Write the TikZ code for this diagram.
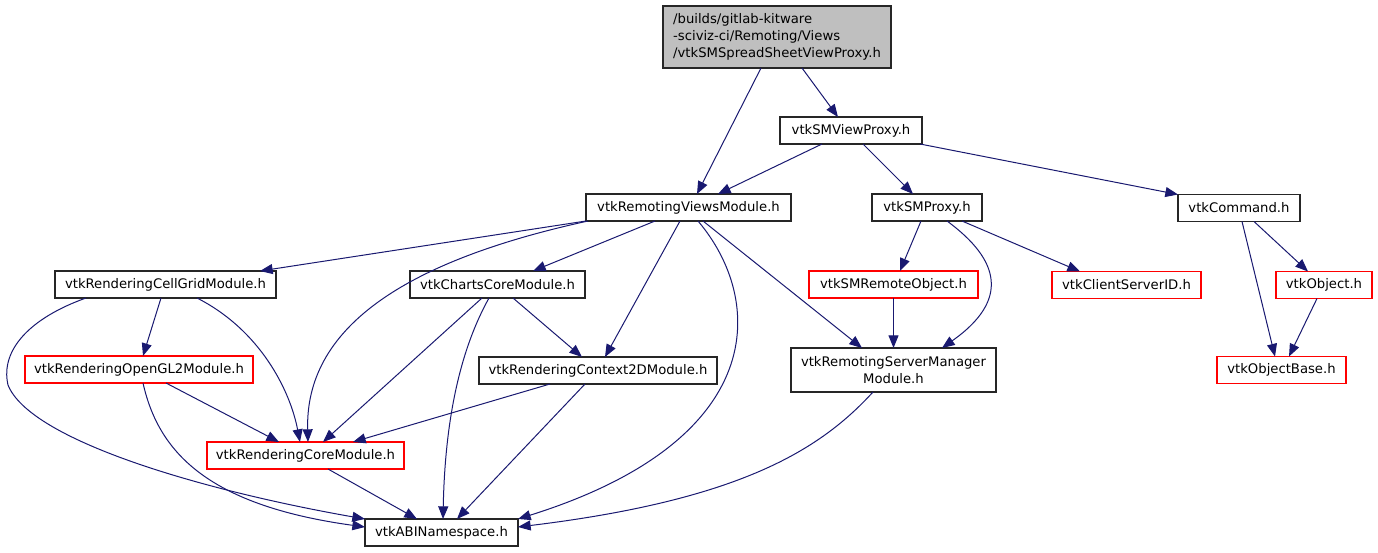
\documentclass[tikz,border=0pt]{standalone}
\usepackage{fontspec}
\setmainfont{DejaVu Sans}
\usetikzlibrary{arrows.meta,calc}
\definecolor{edgeblue}{HTML}{191970}
\definecolor{rootgray}{HTML}{BFBFBF}
\definecolor{boxred}{HTML}{FF0000}
\begin{document}
\begin{tikzpicture}[x=0.75pt,y=-0.75pt,
  box/.style={draw=black!85, line width=0.8pt, fill=white, inner sep=0pt, outer sep=0pt,
    minimum height=20.25pt, font=\fontsize{9.9}{12.5}\selectfont},
  redbox/.style={box, draw=boxred},
  dep/.style={draw=edgeblue, line width=0.75pt, -{Triangle[length=9.5pt,width=7.5pt]}, edgeblue}
]
\useasboundingbox (0,0) rectangle (1378,553);

\node[box, fill=rootgray, minimum width=171pt, minimum height=46.5pt, align=left] (root) at (777,37)
  {/builds/gitlab-kitware\\-sciviz-ci/Remoting/Views\\/vtkSMSpreadSheetViewProxy.h};
\node[box, minimum width=106.5pt] (smview) at (851,130.5) {vtkSMViewProxy.h};
\node[box, minimum width=153.75pt] (rvm) at (688.5,207.5) {vtkRemotingViewsModule.h};
\node[box, minimum width=82.5pt] (smproxy) at (927,207.5) {vtkSMProxy.h};
\node[box, minimum width=91.5pt] (command) at (1239,208) {vtkCommand.h};
\node[box, minimum width=165.75pt] (cellgrid) at (165.5,284.5) {vtkRenderingCellGridModule.h};
\node[box, minimum width=131.25pt] (charts) at (497.5,284.5) {vtkChartsCoreModule.h};
\node[redbox, minimum width=126.75pt] (remote) at (893.5,284.5) {vtkSMRemoteObject.h};
\node[redbox, minimum width=111.75pt] (csid) at (1126.5,285) {vtkClientServerID.h};
\node[redbox, minimum width=72pt] (object) at (1324,285) {vtkObject.h};
\node[redbox, minimum width=171pt] (opengl2) at (139,369.5) {vtkRenderingOpenGL2Module.h};
\node[box, minimum width=178.5pt] (context2d) at (598,370.5) {vtkRenderingContext2DModule.h};
\node[box, minimum width=153.75pt, minimum height=33pt, align=center] (rsm) at (893.5,370)
  {vtkRemotingServerManager\\Module.h};
\node[redbox, minimum width=96.75pt] (objbase) at (1281.5,370) {vtkObjectBase.h};
\node[redbox, minimum width=147.75pt] (core) at (305.5,455.5) {vtkRenderingCoreModule.h};
\node[box, minimum width=114.75pt] (abi) at (441.5,532.5) {vtkABINamespace.h};

% root
\draw[dep] ($(root.south)+(-16,0)$) -- ($(rvm.north)+(8.5,0)$);
\draw[dep] ($(root.south)+(25,0)$) -- ($(smview.north)+(-13,0)$);
% smview
\draw[dep] ($(smview.south)+(-29,0)$) -- ($(rvm.north)+(29.5,0)$);
\draw[dep] ($(smview.south)+(12,0)$) -- ($(smproxy.north)+(-14,0)$);
\draw[dep] ($(smview.south east)+(-2,0)$) -- (command.north west);
% rvm
\draw[dep] (rvm.south west) -- ($(cellgrid.north)+(94.5,0)$);
\draw[dep] ($(rvm.south west)+(2,0)$) .. controls (400,262) and (305,330) .. ($(core.north)+(2.5,0)$);
\draw[dep] ($(rvm.south)+(-33.5,0)$) -- ($(charts.north)+(35.5,0)$);
\draw[dep] ($(rvm.south)+(-8.5,0)$) -- ($(context2d.north)+(7,0)$);
\draw[dep] ($(rvm.south)+(9.5,0)$) .. controls (765,300) and (770,440) .. (abi.north east);
\draw[dep] ($(rvm.south)+(14.5,0)$) -- ($(rsm.north)+(-31.5,0)$);
% smproxy
\draw[dep] ($(smproxy.south)+(-6,0)$) -- ($(remote.north)+(6.5,0)$);
\draw[dep] ($(smproxy.south)+(20,0)$) .. controls (1000,260) and (1010,300) .. ($(rsm.north)+(48.5,0)$);
\draw[dep] ($(smproxy.south)+(35,0)$) -- ($(csid.north)+(-46.5,0)$);
% command
\draw[dep] ($(command.south)+(3,0)$) -- ($(objbase.north)+(-6.5,0)$);
\draw[dep] ($(command.south)+(15,0)$) -- ($(object.north)+(-16,0)$);
\draw[dep] ($(object.south)+(-7,0)$) -- ($(objbase.north)+(7.5,0)$);
% remote
\draw[dep] (remote.south) -- (rsm.north);
% cellgrid
\draw[dep] ($(cellgrid.south)+(-4.5,0)$) -- ($(opengl2.north)+(4,0)$);
\draw[dep] ($(cellgrid.south)+(-79.5,0)$) .. controls (30,318) and (0,350) .. (8,385)
  .. controls (30,440) and (200,490) .. (abi.north west);
\draw[dep] ($(cellgrid.south)+(31.5,0)$) .. controls (260,330) and (290,390) .. ($(core.north)+(-5.5,0)$);
% opengl2
\draw[dep] ($(opengl2.south)+(27,0)$) -- ($(core.north)+(-26.5,0)$);
\draw[dep] ($(opengl2.south)+(4,0)$) .. controls (158,450) and (205,505) .. ($(abi.west)+(0,-5.5)$);
% charts
\draw[dep] ($(charts.south)+(-15.5,0)$) -- ($(core.north)+(17.5,0)$);
\draw[dep] ($(charts.south)+(-8.5,0)$) .. controls (460,350) and (445,420) .. ($(abi.north)+(1.5,0)$);
\draw[dep] ($(charts.south)+(15.5,0)$) -- ($(context2d.north)+(-16,0)$);
% context2d
\draw[dep] ($(context2d.south)+(-48,0)$) -- ($(core.north)+(47.5,0)$);
\draw[dep] ($(context2d.south)+(-13,0)$) -- ($(abi.north)+(15.5,0)$);
% core
\draw[dep] ($(core.south)+(22.5,0)$) -- ($(abi.north)+(-24.5,0)$);
% rsm
\draw[dep] ($(rsm.south)+(-20.5,0)$) .. controls (820,450) and (740,500) .. ($(abi.east)+(0,-5.5)$);
\end{tikzpicture}
\end{document}
